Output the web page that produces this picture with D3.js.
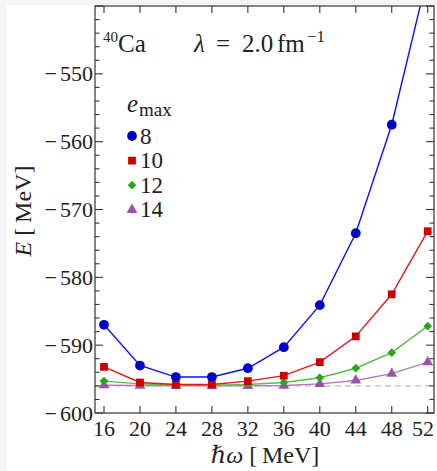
<!DOCTYPE html>
<html><head><meta charset="utf-8">
<script src="https://cdn.jsdelivr.net/npm/d3@7"></script>
<style>
html,body{margin:0;padding:0;background:#fff;}
svg{display:block;}
text{font-family:"Liberation Serif","DejaVu Serif",serif;fill:#222;}
</style></head>
<body>
<script>
// ---- data ----
const hw = [16, 20, 24, 28, 32, 36, 40, 44, 48, 52];
const emaxLabels = ["8", "10", "12", "14"];
const e8  = [-587.0, -593.0, -594.7, -594.7, -593.4, -590.3, -584.1, -573.5, -557.5, -535.4];
const e10 = [-593.2, -595.5, -595.8, -595.8, -595.3, -594.5, -592.5, -588.7, -582.5, -573.2];
const e12 = [-595.3, -595.7, -595.9, -595.9, -595.8, -595.5, -594.8, -593.4, -591.1, -587.2];
const e14 = [-595.9, -595.95, -596.0, -596.0, -596.0, -595.95, -595.7, -595.2, -594.2, -592.5];
const extrapolated = -596.0;
const xTicks = [16, 20, 24, 28, 32, 36, 40, 44, 48, 52];
const yTicks = [-600, -590, -580, -570, -560, -550];

const W = 437, H = 471;
const svg = d3.select("body").append("svg").attr("width", W).attr("height", H);
svg.append("rect").attr("width", W).attr("height", H).attr("fill", "#fff");
svg.append("rect").attr("width", 7).attr("height", H).attr("fill", "#f5f5f5");
svg.append("rect").attr("width", W).attr("height", 5).attr("fill", "#f5f5f5");

const L = 95, R = 434, T = 6, B = 413;
const x = d3.scaleLinear().domain([15, 52.7]).range([L, R]);
const y = d3.scaleLinear().domain([-600, -540]).range([B, T]);

const series = [
  {vals: e8,  label: emaxLabels[0], line: "#1010ee", fill: "#0000cc", shape: d3.symbolCircle, size: 75, rot: 0},
  {vals: e10, label: emaxLabels[1], line: "#dd1a1a", fill: "#cc0000", shape: d3.symbolSquare, size: 60, rot: 0},
  {vals: e12, label: emaxLabels[2], line: "#55c044", fill: "#2aa61e", shape: d3.symbolSquare, size: 38, rot: 45},
  {vals: e14, label: emaxLabels[3], line: "#b67ab8", fill: "#a050a8", shape: d3.symbolTriangle, size: 50, rot: 0}
];

svg.append("defs").append("clipPath").attr("id", "c")
  .append("rect").attr("x", L).attr("y", T).attr("width", R - L).attr("height", B - T);

const plot = svg.append("g").attr("clip-path", "url(#c)");
plot.append("line").attr("x1", L).attr("x2", R)
  .attr("y1", y(extrapolated)).attr("y2", y(extrapolated))
  .attr("stroke", "#bbb").attr("stroke-width", 1.3).attr("stroke-dasharray", "6,4");

const line = d3.line().x((d, i) => x(hw[i])).y(d => y(d));
series.slice().reverse().forEach(s => {
  plot.append("path").datum(s.vals).attr("d", line)
    .attr("fill", "none").attr("stroke", s.line).attr("stroke-width", 1.4);
  plot.selectAll(null).data(s.vals).enter().append("path")
    .attr("d", d3.symbol().type(s.shape).size(s.size))
    .attr("transform", (d, i) => `translate(${x(hw[i])},${y(d)}) rotate(${s.rot})`)
    .attr("fill", s.fill);
});

// frame
svg.append("rect").attr("x", L).attr("y", T).attr("width", R - L).attr("height", B - T)
  .attr("fill", "none").attr("stroke", "#333").attr("stroke-width", 1.2);

// ticks
const tg = svg.append("g").attr("stroke", "#333").attr("stroke-width", 1.1);
xTicks.forEach(t => {
  tg.append("line").attr("x1", x(t)).attr("x2", x(t)).attr("y1", B).attr("y2", B - 7);
  tg.append("line").attr("x1", x(t)).attr("x2", x(t)).attr("y1", T).attr("y2", T + 7);
});
d3.range(-600, -539, 2).forEach(t => {
  const len = (t % 10 === 0) ? 8 : 4.5;
  tg.append("line").attr("x1", L).attr("x2", L + len).attr("y1", y(t)).attr("y2", y(t));
  tg.append("line").attr("x1", R).attr("x2", R - len).attr("y1", y(t)).attr("y2", y(t));
});

// tick labels
svg.selectAll(".xl").data(xTicks).enter().append("text")
  .attr("y", B + 23).attr("text-anchor", "middle")
  .attr("font-size", 22).text(d => d)
  .attr("x", function(d) {
    const half = this.getComputedTextLength() / 2;
    return Math.min(x(d), W - 3 - half);
  });
const yl = svg.selectAll(".yl").data(yTicks).enter().append("text")
  .attr("x", L - 2).attr("y", d => y(d) + 7.5).attr("text-anchor", "end")
  .attr("font-size", 22);
yl.append("tspan").text("\u2212");
yl.append("tspan").attr("dx", 3).text(d => Math.abs(d));

// axis titles
const xt = svg.append("text").attr("x", 265).attr("y", 463).attr("text-anchor", "middle").attr("font-size", 24);
xt.append("tspan").attr("font-style", "italic").text("\u210Fω");
xt.append("tspan").text(" [\u2009MeV]");
const yt = svg.append("text").attr("transform", `translate(31,211) rotate(-90)`)
  .attr("text-anchor", "middle").attr("font-size", 24);
yt.append("tspan").attr("font-style", "italic").text("E");
yt.append("tspan").text(" [\u2009MeV]");

// annotation
svg.append("text").attr("x", 103).attr("y", 42).attr("font-size", 15).text("40");
svg.append("text").attr("x", 118).attr("y", 52).attr("font-size", 25).text("Ca");
svg.append("text").attr("x", 194).attr("y", 52).attr("font-size", 25).attr("font-style", "italic").text("λ");
svg.append("text").attr("x", 216).attr("y", 52).attr("font-size", 25).text("=");
svg.append("text").attr("x", 242).attr("y", 52).attr("font-size", 25).text("2.0");
svg.append("text").attr("x", 277).attr("y", 52).attr("font-size", 25).text("fm");
svg.append("text").attr("x", 307).attr("y", 42).attr("font-size", 17).text("\u22121");

// legend
svg.append("text").attr("x", 127).attr("y", 112).attr("font-size", 25).attr("font-style", "italic").text("e");
svg.append("text").attr("x", 139).attr("y", 116).attr("font-size", 19).text("max");
series.forEach((s, i) => {
  const cy = 136 + i * 24.6;
  svg.append("path").attr("d", d3.symbol().type(s.shape).size(s.size))
    .attr("transform", `translate(132,${cy}) rotate(${s.rot})`).attr("fill", s.fill);
  svg.append("text").attr("x", 140).attr("y", cy + 7.5).attr("font-size", 23).text(s.label);
});
</script>
</body></html>
